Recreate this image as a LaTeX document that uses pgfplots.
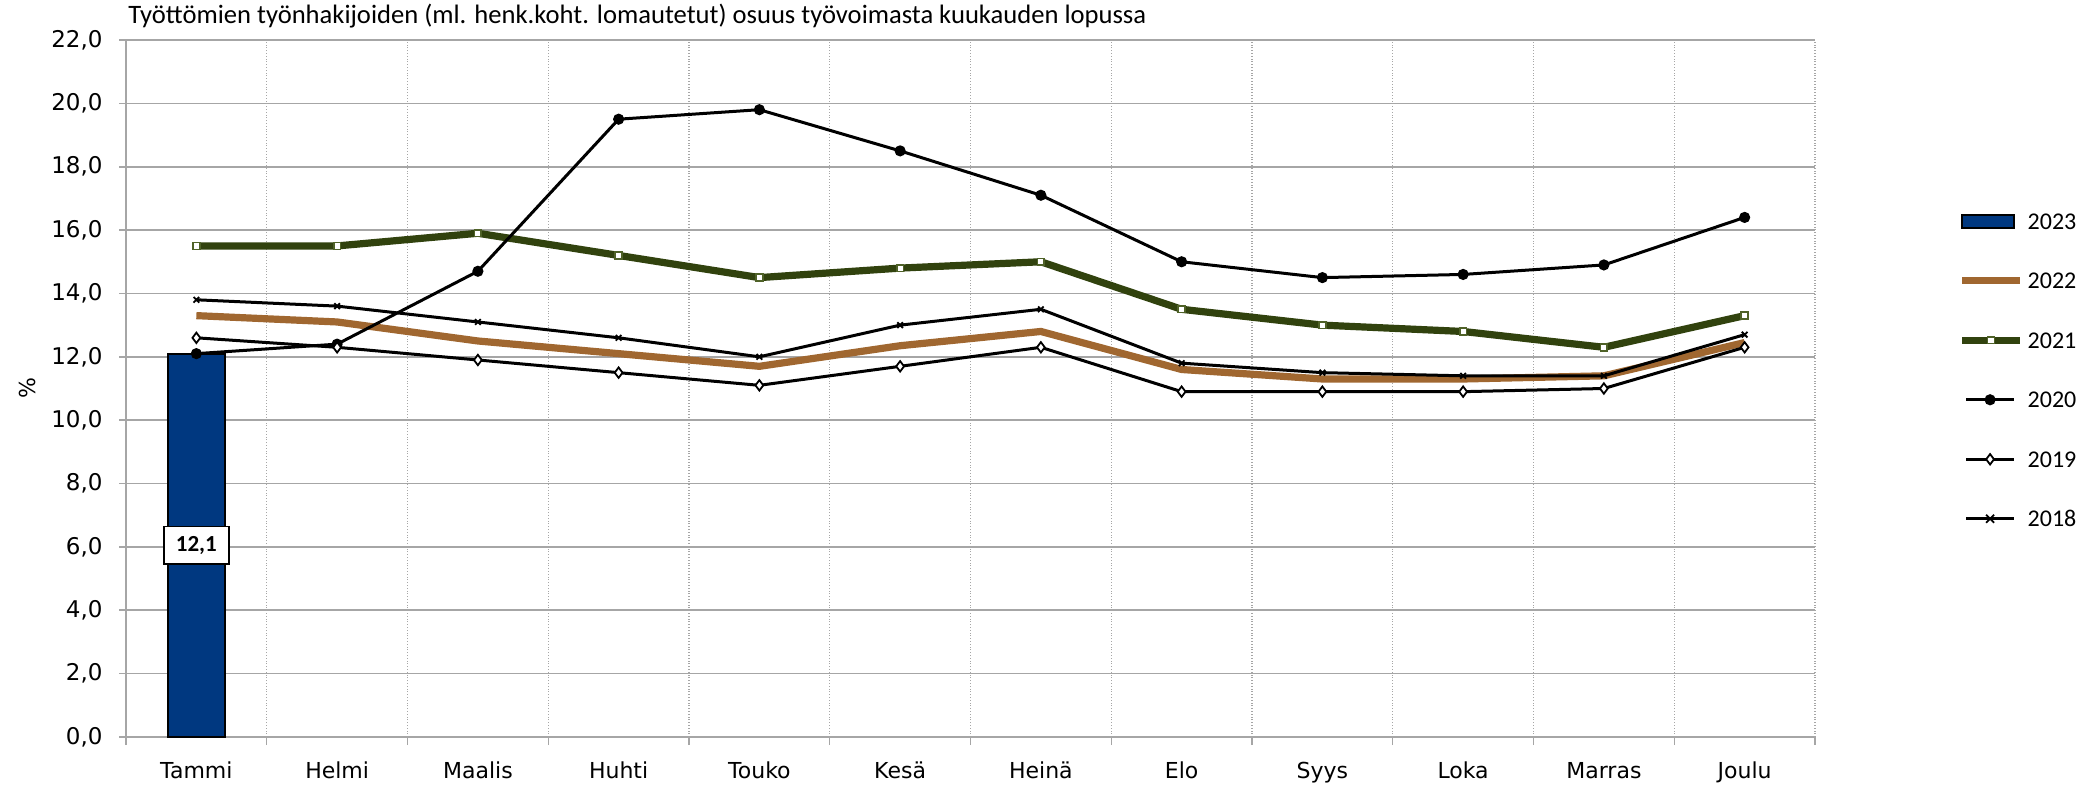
\documentclass[border=0pt]{standalone}
\usepackage{fontspec}
\setmainfont{DejaVu Sans}
\newfontfamily\carlito{Carlito}
\usepackage{pgfplots}
\pgfplotsset{compat=1.18}
\definecolor{barblue}{HTML}{003880}
\definecolor{brown22}{HTML}{A06730}
\definecolor{green21}{HTML}{31420E}
\definecolor{olive21}{HTML}{4F6228}
\definecolor{gridgray}{HTML}{A6A6A6}
\begin{document}
\begin{tikzpicture}
\path[use as bounding box] (0,0) rectangle (1038.5pt,394pt);
\begin{axis}[
  at={(63pt,25.5pt)}, anchor=south west,
  scale only axis, width=844.5pt, height=348.5pt,
  xmin=-0.5, xmax=11.5, ymin=0, ymax=22,
  xtick={0,...,11},
  xticklabels={Tammi,Helmi,Maalis,Huhti,Touko,Kesä,Heinä,Elo,Syys,Loka,Marras,Joulu},
  minor xtick={-0.5,0.5,...,11.5},
  ytick={0,2,...,22},
  /pgf/number format/assume math mode=true,
  yticklabel style={xshift=-4.7pt, font=\fontsize{11.5}{13}\selectfont,
    /pgf/number format/.cd, fixed, fixed zerofill, precision=1, use comma},
  xticklabel style={anchor=base, yshift=-17pt, font=\fontsize{11}{13}\selectfont},
  xminorgrids, ymajorgrids,
  minor x grid style={gridgray, densely dotted, line width=0.6pt},
  major y grid style={gridgray, line width=0.8pt},
  axis x line*=bottom, axis y line*=left,
  axis line style={gridgray, line width=0.8pt, -},
  tick align=outside,
  major tick length=3.5pt, minor tick length=4pt,
  major x tick style={draw=none},
  minor x tick style={gridgray, line width=0.6pt},
  major y tick style={gridgray, line width=0.8pt},
  ylabel={\%},
  ylabel style={at={(axis description cs:-0.0586,0.5)}, anchor=center, rotate=0, font=\fontsize{11}{13}\selectfont},
  title={Työttömien työnhakijoiden (ml. henk.koht. lomautetut) osuus työvoimasta kuukauden lopussa},
  title style={at={(axis description cs:0,1)}, anchor=west, xshift=1pt, yshift=6pt, inner sep=0pt, font=\carlito\fontsize{13.3}{15}\selectfont},
  legend style={at={(1.0847,0.5265)}, anchor=west, draw=none, fill=none, inner sep=0pt,
    font=\carlito\fontsize{12}{14}\selectfont, row sep=21.75pt, column sep=2pt,
    nodes={inner sep=0pt, anchor=west, text height=8pt, text depth=0pt}},
  legend cell align=left,
]
\addplot[ybar, bar width=28.5pt, fill=barblue, draw=black, line width=1pt,
  legend image code/.code={\draw[fill=barblue, draw=black, line width=1pt] (0pt,-3.25pt) rectangle (26pt,3.25pt);}]
  coordinates {(0,12.1)};
\addlegendentry{2023}
\addplot[brown22, line width=3.6pt, mark=none,
  legend image code/.code={\draw[brown22, line width=3.6pt] (0pt,0pt) -- (29pt,0pt);}]
  coordinates {(0,13.3) (1,13.1) (2,12.5) (3,12.1) (4,11.7) (5,12.35) (6,12.8) (7,11.6) (8,11.3) (9,11.3) (10,11.4) (11,12.45)};
\addlegendentry{2022}
\addplot[green21, line width=3.6pt, mark=square*, mark size=1.7pt,
  mark options={fill=white, draw=olive21, line width=0.8pt},
  legend image code/.code={\draw[green21, line width=3.6pt] (0pt,0pt) -- (29pt,0pt);
     \draw[fill=white, draw=olive21, line width=0.8pt] (12.8pt,-1.7pt) rectangle (16.2pt,1.7pt);}]
  coordinates {(0,15.5) (1,15.5) (2,15.9) (3,15.2) (4,14.5) (5,14.8) (6,15.0) (7,13.5) (8,13.0) (9,12.8) (10,12.3) (11,13.3)};
\addlegendentry{2021}
\addplot[black, line width=1.5pt, mark=*, mark size=2pt,
  legend image code/.code={\draw[black, line width=1.5pt] (2pt,0pt) -- (26pt,0pt);
     \fill[black] (14pt,0pt) circle (2pt);}]
  coordinates {(0,12.1) (1,12.4) (2,14.7) (3,19.5) (4,19.8) (5,18.5) (6,17.1) (7,15.0) (8,14.5) (9,14.6) (10,14.9) (11,16.4)};
\addlegendentry{2020}
\addplot[black, line width=1.5pt, mark=diamond*, mark size=2.6pt,
  mark options={fill=white, draw=black, line width=0.9pt},
  legend image code/.code={\draw[black, line width=1.5pt] (2pt,0pt) -- (26pt,0pt);
     \draw[fill=white, draw=black, line width=0.9pt] (14pt,2.6pt) -- (15.95pt,0pt) -- (14pt,-2.6pt) -- (12.05pt,0pt) -- cycle;}]
  coordinates {(0,12.6) (1,12.3) (2,11.9) (3,11.5) (4,11.1) (5,11.7) (6,12.3) (7,10.9) (8,10.9) (9,10.9) (10,11.0) (11,12.3)};
\addlegendentry{2019}
\addplot[black, line width=1.5pt, mark=x, mark size=2pt,
  mark options={line width=0.9pt},
  legend image code/.code={\draw[black, line width=1.5pt] (2pt,0pt) -- (26pt,0pt);
     \draw[black, line width=0.9pt] (12pt,-2pt) -- (16pt,2pt) (12pt,2pt) -- (16pt,-2pt);}]
  coordinates {(0,13.8) (1,13.6) (2,13.1) (3,12.6) (4,12.0) (5,13.0) (6,13.5) (7,11.8) (8,11.5) (9,11.4) (10,11.4) (11,12.7)};
\addlegendentry{2018}
\addplot[draw=none, mark=none, forget plot, point meta=explicit symbolic,
  nodes near coords,
  nodes near coords style={anchor=center, draw=black, fill=white, line width=0.8pt,
    inner sep=0pt, minimum width=32.5pt, minimum height=18.7pt,
    font=\carlito\bfseries\fontsize{11.5}{13}\selectfont}]
  coordinates {(0,6.05) [12,1]};
\end{axis}
\end{tikzpicture}
\end{document}
